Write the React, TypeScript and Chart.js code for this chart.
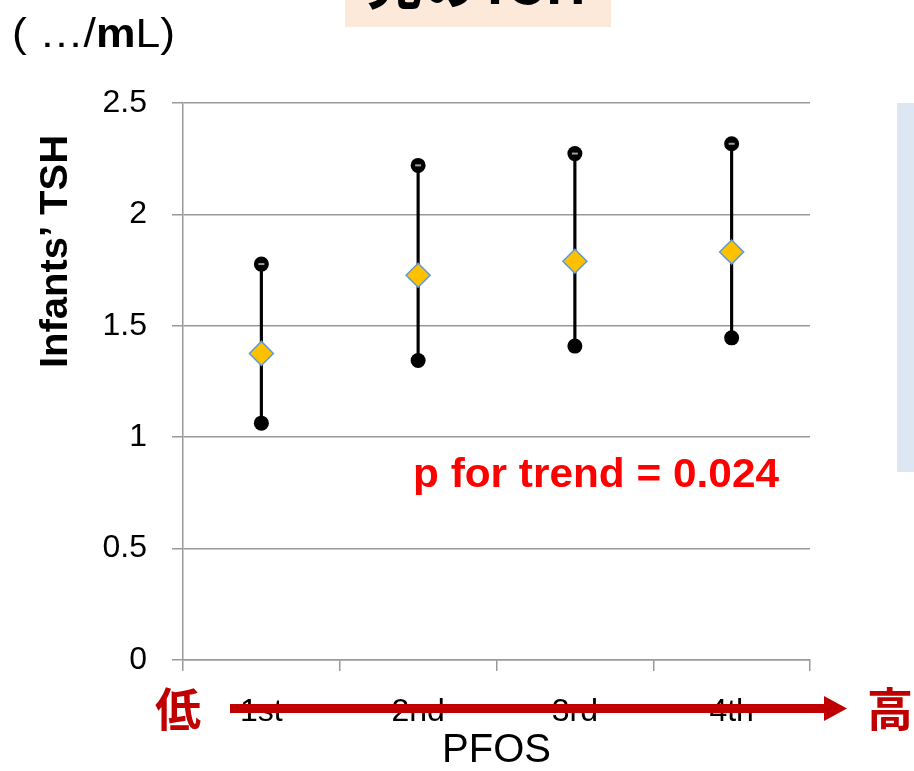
import { useEffect, useRef } from 'react';
import { Chart, registerables } from 'chart.js';

Chart.register(...registerables);

// ---- data ----
const categories = ['1st', '2nd', '3rd', '4th'];
const meanTSH = [1.376, 1.727, 1.79, 1.831];
const upperTSH = [1.777, 2.22, 2.273, 2.317];
const lowerTSH = [1.063, 1.344, 1.409, 1.446];
const yMin = 0;
const yMax = 2.5;
const yStep = 0.5;

const unitParts = [
  { t: '( \u2026/', bold: false },
  { t: 'm', bold: true },
  { t: 'L)', bold: false },
];
const yTitle = 'Infants\u2019 TSH';
const xTitle = 'PFOS';
const trendText = 'p for trend = 0.024';
const topTitle = '\u5150\u306eTSH';
const lowLabel = '\u4f4e';
const highLabel = '\u9ad8';

const SANS = "'Liberation Sans', Arial, sans-serif";
const CJK = "'Noto Sans CJK JP', 'Noto Sans CJK SC', sans-serif";

function fitText(ctx: CanvasRenderingContext2D, text: string, x: number, y: number, width: number, font: string, color: string) {
  ctx.save();
  ctx.font = font;
  ctx.fillStyle = color;
  ctx.textBaseline = 'alphabetic';
  ctx.textAlign = 'left';
  const w = ctx.measureText(text).width;
  ctx.translate(x, y);
  ctx.scale(width / w, 1);
  ctx.fillText(text, 0, 0);
  ctx.restore();
}

const overlay = {
  id: 'overlay',
  beforeDraw(chart: any) {
    const ctx: CanvasRenderingContext2D = chart.ctx;
    ctx.save();
    ctx.fillStyle = '#fde9d9';
    ctx.fillRect(345, 0, 266, 27);
    ctx.fillStyle = '#dde7f3';
    ctx.fillRect(897, 103, 17, 369);
    ctx.restore();
  },
  afterDraw(chart: any) {
    const ctx: CanvasRenderingContext2D = chart.ctx;
    // top title sliver
    fitText(ctx, topTitle, 367, 4, 220, `bold 60px ${CJK}`, '#000');

    // unit label with bold m
    ctx.save();
    const fonts = unitParts.map((p) => `${p.bold ? 'bold ' : ''}40px ${SANS}`);
    let total = 0;
    const widths = unitParts.map((p, i) => {
      ctx.font = fonts[i];
      const w = ctx.measureText(p.t).width;
      total += w;
      return w;
    });
    const sx = 163 / total;
    ctx.translate(12, 47);
    ctx.scale(sx, 1);
    ctx.fillStyle = '#000';
    ctx.textBaseline = 'alphabetic';
    let cx = 0;
    unitParts.forEach((p, i) => {
      ctx.font = fonts[i];
      ctx.fillText(p.t, cx, 0);
      cx += widths[i];
    });
    ctx.restore();

    // y-axis title (rotated)
    ctx.save();
    ctx.translate(67, 368);
    ctx.rotate(-Math.PI / 2);
    fitText(ctx, yTitle, 0, 0, 233, `bold 39px ${SANS}`, '#000');
    ctx.restore();

    // p for trend
    fitText(ctx, trendText, 413, 487, 366, `bold 40px ${SANS}`, '#ff0000');

    // red arrow
    ctx.save();
    ctx.fillStyle = '#c00000';
    ctx.fillRect(230, 704, 596, 9);
    ctx.beginPath();
    ctx.moveTo(824, 696);
    ctx.lineTo(847, 708.5);
    ctx.lineTo(824, 721);
    ctx.closePath();
    ctx.fill();
    ctx.font = `bold 46px ${CJK}`;
    ctx.textBaseline = 'middle';
    ctx.textAlign = 'left';
    ctx.fillText(lowLabel, 155, 709);
    ctx.fillText(highLabel, 867, 709);
    ctx.restore();
  },
};

export default function App() {
  const ref = useRef<HTMLCanvasElement | null>(null);

  useEffect(() => {
    if (!ref.current) return;
    const chart = new Chart(ref.current, {
      type: 'bar',
      data: {
        labels: categories,
        datasets: [
          {
            type: 'line',
            label: 'mean',
            data: meanTSH,
            showLine: false,
            pointStyle: 'rectRot',
            pointRadius: 12,
            pointBackgroundColor: '#ffc000',
            pointBorderColor: '#5b9bd5',
            pointBorderWidth: 1.5,
            order: 0,
          } as any,
          {
            type: 'line',
            label: 'upperMark',
            data: upperTSH,
            showLine: false,
            pointStyle: 'line',
            pointRadius: 3,
            pointBorderColor: '#a0a0a0',
            pointBorderWidth: 2,
            order: 1,
          } as any,
          {
            type: 'line',
            label: 'upper',
            data: upperTSH,
            showLine: false,
            pointStyle: 'circle',
            pointRadius: 7.5,
            pointBackgroundColor: '#000',
            pointBorderColor: '#000',
            pointBorderWidth: 0,
            order: 2,
          } as any,
          {
            type: 'line',
            label: 'lower',
            data: lowerTSH,
            showLine: false,
            pointStyle: 'circle',
            pointRadius: 7.5,
            pointBackgroundColor: '#000',
            pointBorderColor: '#000',
            pointBorderWidth: 0,
            order: 2,
          } as any,
          {
            type: 'bar',
            label: 'range',
            data: lowerTSH.map((l, i) => [l, upperTSH[i]]),
            backgroundColor: '#000',
            barThickness: 2.5,
            order: 5,
          } as any,
        ],
      },
      options: {
        animation: false,
        responsive: false,
        layout: { padding: { top: 103, right: 104, left: 0, bottom: 0 } },
        plugins: { legend: { display: false }, tooltip: { enabled: false } },
        scales: {
          x: {
            offset: true,
            grid: { offset: true, drawOnChartArea: false, tickLength: 11, color: '#999999', lineWidth: 1.5 },
            border: { display: true, color: '#999999', width: 1.5 },
            ticks: { color: '#000', font: { family: SANS, size: 32 }, padding: 22, maxRotation: 0 },
            title: { display: true, text: xTitle, color: '#000', font: { family: SANS, size: 40, lineHeight: 1 }, padding: { top: 0, bottom: 0 } },
            afterFit: (s: any) => { s.height = 111; },
          },
          y: {
            min: yMin,
            max: yMax,
            ticks: {
              stepSize: yStep,
              color: '#000',
              font: { family: SANS, size: 32 },
              padding: 25,
              callback: (v: any) => String(Number(v)),
            },
            grid: { color: '#999999', lineWidth: 1.5, tickLength: 11 },
            border: { display: true, color: '#999999', width: 1.5 },
            afterFit: (s: any) => { s.width = 183; },
          },
        },
      },
      plugins: [overlay],
    } as any);
    return () => chart.destroy();
  }, []);

  return (
    <div style={{ position: 'absolute', left: 0, top: 0, width: 914, height: 771, background: '#fff' }}>
      <canvas ref={ref} width={914} height={771} />
    </div>
  );
}
